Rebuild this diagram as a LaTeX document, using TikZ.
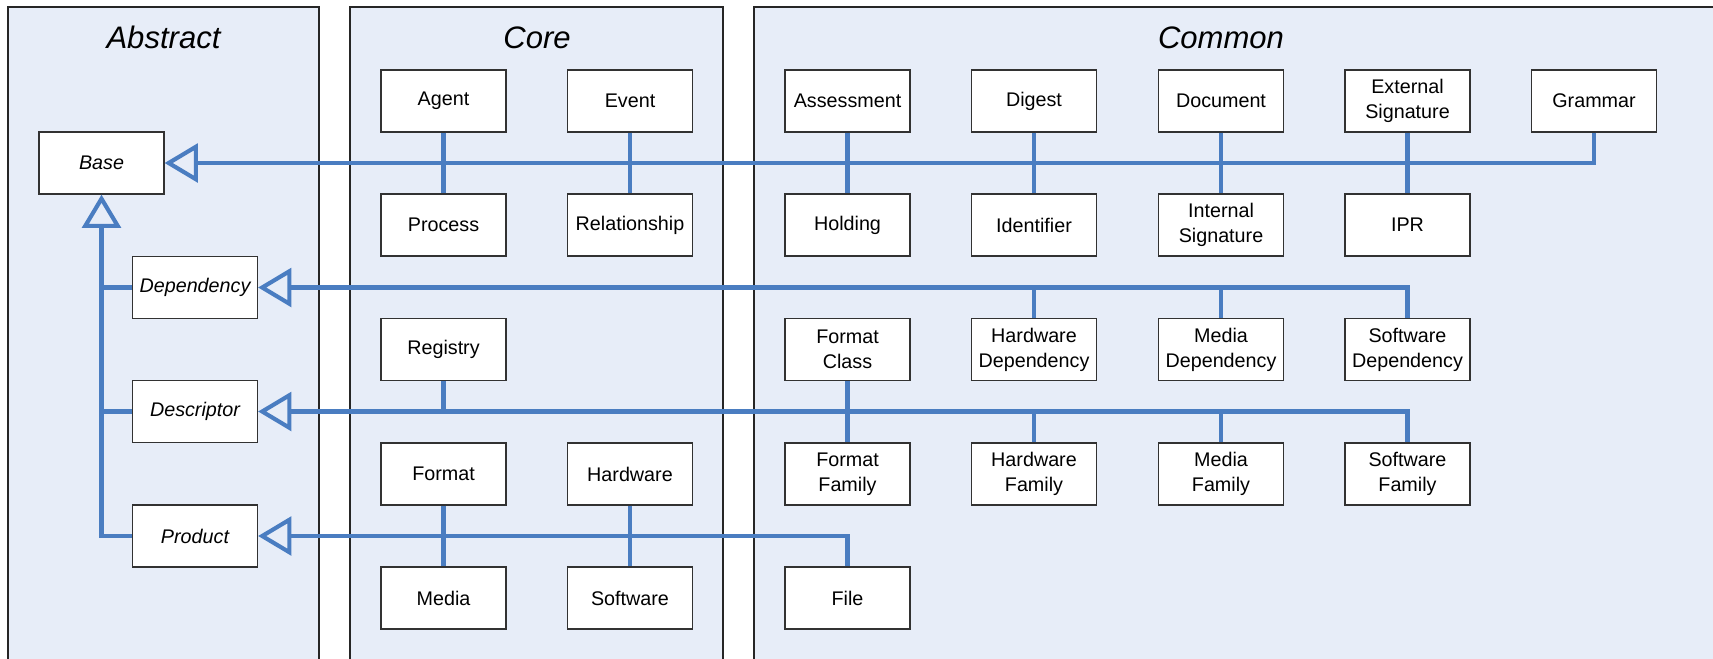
\documentclass[tikz,border=0pt]{standalone}
\usepackage{fontspec}
\setmainfont{Liberation Sans}
\usetikzlibrary{arrows.meta}
\definecolor{panelfill}{RGB}{231,237,248}
\definecolor{linkblue}{RGB}{74,125,193}
\definecolor{boxline}{RGB}{50,50,50}
\begin{document}
\begin{tikzpicture}[x=0.75pt,y=-0.75pt,
  panel/.style={draw=black!85, line width=0.9pt, fill=panelfill},
  cls/.style={draw=boxline, line width=0.9pt, fill=white, minimum width=93.75pt, minimum height=46.5pt, inner sep=1pt, align=center, font=\fontsize{14.8}{18.75}\selectfont},
  abs/.style={cls, font=\fontsize{14.8}{18.75}\selectfont\itshape},
  ttl/.style={font=\fontsize{23.3}{28}\selectfont\itshape, anchor=base},
  link/.style={draw=linkblue, line width=3.1pt},
  gen/.style={link, -{Triangle[open, length=25pt, width=29pt, line width=3.1pt]}},
]
\useasboundingbox (0,0) rectangle (1713,658);
% panels
\path[panel] (8,7) rectangle (319,680);
\path[panel] (350,7) rectangle (723,680);
\path[panel] (754,7) rectangle (1740,680);
\node[ttl] (tAbs) at (163.5,48.5) {Abstract};
\node[ttl] (tCore) at (537,48.5) {Core};
\node[ttl] (tCommon) at (1221,48.5) {Common};
% abstract
\node[abs] (Base) at (101.5,163) {Base};
\node[abs] (Dependency) at (195,287.5) {Dependency};
\node[abs] (Descriptor) at (195,411.5) {Descriptor};
\node[abs] (Product) at (195,536) {Product};
% row 1
\node[cls] (Agent) at (443.5,101) {Agent};
\node[cls] (Event) at (630,101) {Event};
\node[cls] (Assessment) at (847.5,101) {Assessment};
\node[cls] (Digest) at (1034,101) {Digest};
\node[cls] (Document) at (1221,101) {Document};
\node[cls] (ExtSig) at (1407.5,101) {External\\Signature};
\node[cls] (Grammar) at (1594,101) {Grammar};
% row 2
\node[cls] (Process) at (443.5,225) {Process};
\node[cls] (Relationship) at (630,225) {Relationship};
\node[cls] (Holding) at (847.5,225) {Holding};
\node[cls] (Identifier) at (1034,225) {Identifier};
\node[cls] (IntSig) at (1221,225) {Internal\\Signature};
\node[cls] (IPR) at (1407.5,225) {IPR};
% row 3
\node[cls] (Registry) at (443.5,349.5) {Registry};
\node[cls] (FmtClass) at (847.5,349.5) {Format\\Class};
\node[cls] (HwDep) at (1034,349.5) {Hardware\\Dependency};
\node[cls] (MediaDep) at (1221,349.5) {Media\\Dependency};
\node[cls] (SwDep) at (1407.5,349.5) {Software\\Dependency};
% row 4
\node[cls] (Format) at (443.5,474) {Format};
\node[cls] (Hardware) at (630,474) {Hardware};
\node[cls] (FmtFam) at (847.5,474) {Format\\Family};
\node[cls] (HwFam) at (1034,474) {Hardware\\Family};
\node[cls] (MediaFam) at (1221,474) {Media\\Family};
\node[cls] (SwFam) at (1407.5,474) {Software\\Family};
% row 5
\node[cls] (Media) at (443.5,598) {Media};
\node[cls] (Software) at (630,598) {Software};
\node[cls] (File) at (847.5,598) {File};
% Base connectors
\draw[gen] (Grammar.south) |- (Base.east);
\draw[link] (Agent.south) -- (Process.north);
\draw[link] (Event.south) -- (Relationship.north);
\draw[link] (Assessment.south) -- (Holding.north);
\draw[link] (Digest.south) -- (Identifier.north);
\draw[link] (Document.south) -- (IntSig.north);
\draw[link] (ExtSig.south) -- (IPR.north);
% Dependency connectors
\draw[gen] (SwDep.north) |- (Dependency.east);
\draw[link] (HwDep.north) -- (HwDep.north |- Dependency.east);
\draw[link] (MediaDep.north) -- (MediaDep.north |- Dependency.east);
% Descriptor connectors
\draw[gen] (SwFam.north) |- (Descriptor.east);
\draw[link] (Registry.south) -- (Registry.south |- Descriptor.east);
\draw[link] (FmtClass.south) -- (FmtFam.north);
\draw[link] (HwFam.north) -- (HwFam.north |- Descriptor.east);
\draw[link] (MediaFam.north) -- (MediaFam.north |- Descriptor.east);
% Product connectors
\draw[gen] (File.north) |- (Product.east);
\draw[link] (Format.south) -- (Media.north);
\draw[link] (Hardware.south) -- (Software.north);
% abstract trunk
\draw[gen] (Product.west) -| (Base.south);
\draw[link] (Dependency.west) -- (Dependency.west -| Base.south);
\draw[link] (Descriptor.west) -- (Descriptor.west -| Base.south);
\end{tikzpicture}
\end{document}
